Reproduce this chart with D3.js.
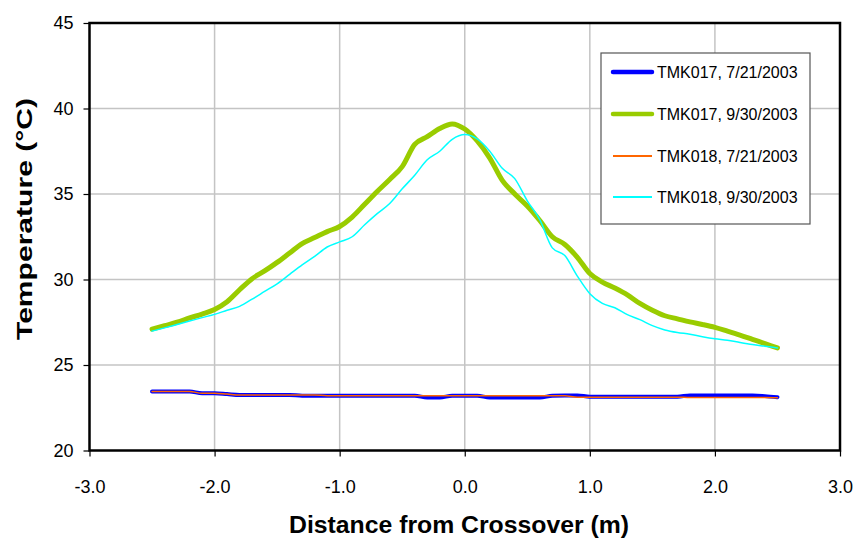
<!DOCTYPE html>
<html>
<head>
<meta charset="utf-8">
<script src="https://cdn.jsdelivr.net/npm/d3@7"></script>
<style>
  html, body { margin: 0; padding: 0; background: #fff; }
  svg { display: block; font-family: "Liberation Sans", Arial, sans-serif; }
</style>
</head>
<body>
<svg id="chart" width="857" height="540"></svg>
<script>
// ---------------- data ----------------
const distances = [-2.5,-2.4,-2.3,-2.2,-2.1,-2.0,-1.9,-1.8,-1.7,-1.6,-1.5,-1.4,-1.3,-1.2,-1.1,-1.0,-0.9,-0.8,-0.7,-0.6,-0.5,-0.4,-0.3,-0.2,-0.1,0.0,0.1,0.2,0.3,0.4,0.5,0.6,0.7,0.8,0.9,1.0,1.1,1.2,1.3,1.4,1.5,1.6,1.7,1.8,1.9,2.0,2.1,2.2,2.3,2.4,2.5];

const tmk017_0721 = [23.45,23.45,23.45,23.45,23.35,23.35,23.3,23.25,23.25,23.25,23.25,23.25,23.2,23.2,23.2,23.2,23.2,23.2,23.2,23.2,23.2,23.2,23.1,23.1,23.2,23.2,23.2,23.1,23.1,23.1,23.1,23.1,23.2,23.22,23.22,23.15,23.15,23.15,23.15,23.15,23.15,23.15,23.15,23.22,23.22,23.22,23.22,23.22,23.22,23.18,23.12];

const tmk017_0930 = [27.1,27.3,27.5,27.75,27.98,28.25,28.7,29.4,30.05,30.5,31.0,31.55,32.1,32.45,32.8,33.1,33.65,34.4,35.15,35.85,36.6,37.9,38.35,38.83,39.1,38.8,38.1,37.1,35.8,35.0,34.3,33.45,32.5,32.05,31.3,30.35,29.85,29.5,29.1,28.6,28.2,27.88,27.7,27.52,27.37,27.2,26.98,26.75,26.5,26.25,26.0];

const tmk018_0721 = [23.45,23.45,23.45,23.45,23.35,23.35,23.3,23.25,23.25,23.25,23.25,23.25,23.25,23.25,23.2,23.2,23.2,23.2,23.2,23.2,23.2,23.2,23.2,23.2,23.2,23.2,23.2,23.2,23.2,23.2,23.2,23.2,23.2,23.2,23.12,23.12,23.12,23.12,23.12,23.12,23.12,23.12,23.12,23.1,23.1,23.1,23.1,23.1,23.1,23.1,23.08];

const tmk018_0930 = [26.98,27.17,27.37,27.57,27.77,27.96,28.2,28.43,28.85,29.3,29.75,30.3,30.85,31.35,31.9,32.2,32.5,33.2,33.85,34.44,35.3,36.1,37.0,37.5,38.2,38.48,38.22,37.5,36.5,35.9,34.6,33.5,31.85,31.4,30.2,29.17,28.6,28.35,27.95,27.65,27.3,27.05,26.9,26.8,26.65,26.53,26.45,26.32,26.2,26.1,26.0];

const seriesNames = ["TMK017, 7/21/2003", "TMK017, 9/30/2003", "TMK018, 7/21/2003", "TMK018, 9/30/2003"];
const xTicks = [-3,-2,-1,0,1,2,3];
const yTicks = [20,25,30,35,40,45];
const xTitle = "Distance from Crossover (m)";
const yTitle = "Temperature (°C)";

// ---------------- layout ----------------
const svg = d3.select("#chart");
const L = 89.5, R = 840, T = 23, B = 450.5;
const x = d3.scaleLinear().domain([-3, 3]).range([L, R]);
const y = d3.scaleLinear().domain([20, 45]).range([B, T]);

const styles = [
  { color: "#0000ff", width: 4 },
  { color: "#99cc00", width: 5 },
  { color: "#ff6600", width: 1.5 },
  { color: "#00ffff", width: 1.5 }
];
const allSeries = [tmk017_0721, tmk017_0930, tmk018_0721, tmk018_0930];

// gridlines
const grid = svg.append("g");
grid.selectAll("line.v").data(xTicks.filter(d => d > -3 && d < 3)).enter().append("line")
  .attr("x1", d => x(d)).attr("x2", d => x(d)).attr("y1", T).attr("y2", B)
  .attr("stroke", "#c4c4c4").attr("stroke-width", 1.5);
grid.selectAll("line.h").data(yTicks.filter(d => d > 20 && d < 45)).enter().append("line")
  .attr("x1", L).attr("x2", R).attr("y1", d => y(d)).attr("y2", d => y(d))
  .attr("stroke", "#c4c4c4").attr("stroke-width", 1.5);

// axes
const xAxis = svg.append("g").attr("transform", `translate(0,${B})`)
  .call(d3.axisBottom(x).tickValues(xTicks).tickFormat(d => d.toFixed(1)).tickSize(6).tickPadding(24));
const yAxis = svg.append("g").attr("transform", `translate(${L},0)`)
  .call(d3.axisLeft(y).tickValues(yTicks).tickFormat(d => String(d)).tickSize(6).tickPadding(10));
[xAxis, yAxis].forEach(a => {
  a.select(".domain").remove();
  a.selectAll(".tick line").attr("stroke", "#000").attr("stroke-width", 1.2);
  a.selectAll(".tick text").attr("fill", "#000").style("font-size", "18px")
    .style("font-family", "'Liberation Sans', Arial, sans-serif");
});

// lines
const line = d3.line().x((d, i) => x(distances[i])).y(d => y(d)).curve(d3.curveMonotoneX);
svg.append("g").selectAll("path").data(allSeries).enter().append("path")
  .attr("d", d => line(d))
  .attr("fill", "none")
  .attr("stroke", (d, i) => styles[i].color)
  .attr("stroke-width", (d, i) => styles[i].width)
  .attr("stroke-linejoin", "round")
  .attr("stroke-linecap", "round");

// frame
svg.append("rect").attr("x", L).attr("y", T).attr("width", R - L).attr("height", B - T)
  .attr("fill", "none").attr("stroke", "#000").attr("stroke-width", 2.5);

// legend
const lg = svg.append("g");
lg.append("rect").attr("x", 601).attr("y", 53).attr("width", 209).attr("height", 171)
  .attr("fill", "#fff").attr("stroke", "#555").attr("stroke-width", 1.2);
const rowY = [72, 114, 156, 197];
seriesNames.forEach((name, i) => {
  lg.append("line").attr("x1", 613).attr("x2", 652).attr("y1", rowY[i]).attr("y2", rowY[i])
    .attr("stroke", styles[i].color).attr("stroke-width", i < 2 ? 4.5 : 2)
    .attr("stroke-linecap", i < 2 ? "round" : "butt");
  lg.append("text").attr("x", 657).attr("y", rowY[i]).attr("dy", "0.35em")
    .style("font-size", "16px").attr("fill", "#000").text(name);
});

// titles
svg.append("text").attr("x", 459).attr("y", 533).attr("text-anchor", "middle")
  .style("font-size", "23px").style("font-weight", "bold")
  .attr("textLength", 340).attr("lengthAdjust", "spacingAndGlyphs").text(xTitle);
svg.append("text").attr("transform", "translate(32,219) rotate(-90)").attr("text-anchor", "middle")
  .style("font-size", "22px").style("font-weight", "bold")
  .attr("textLength", 242).attr("lengthAdjust", "spacingAndGlyphs").text(yTitle);
</script>
</body>
</html>
